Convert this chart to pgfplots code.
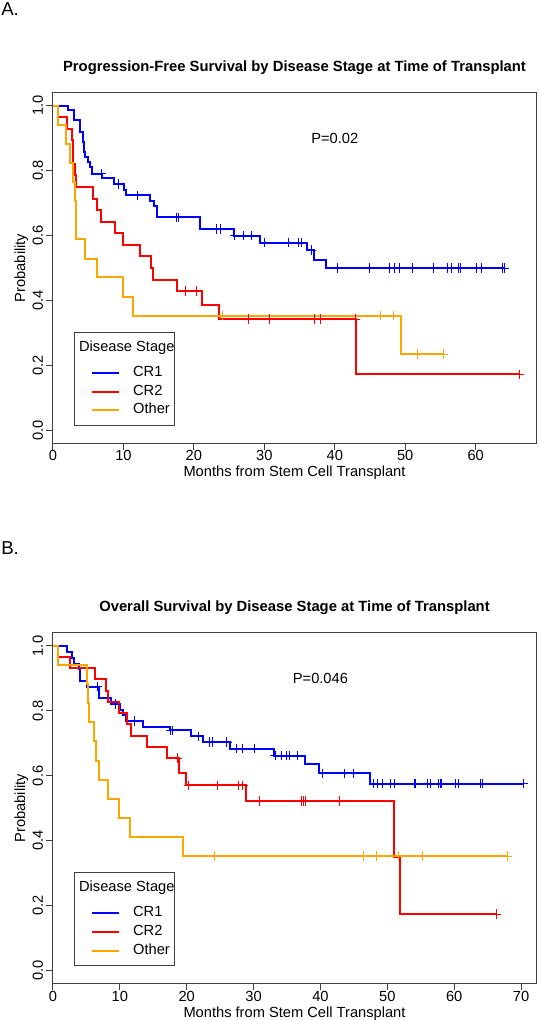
\documentclass[border=0pt]{standalone}
\usepackage{pgfplots}
\pgfplotsset{compat=1.18}
\usepackage{fontspec}
\setmainfont{Liberation Sans}
\definecolor{rblue}{RGB}{0,0,255}
\definecolor{rred}{RGB}{255,0,0}
\definecolor{rorange}{RGB}{255,165,0}

\pgfplotsset{
  kmaxis/.style={
    scale only axis, width=362.25pt, height=262.95pt,
    xmin=0, ymin=-0.04, ymax=1.04,
    axis line style={black!75, line width=0.75pt},
    every tick/.style={black!75, line width=0.75pt},
    tick align=outside, major tick length=4.9pt, tick pos=left,
    /pgf/number format/assume math mode=true,
    ytick={0,0.2,0.4,0.6,0.8,1.0}, yticklabels={0.0,0.2,0.4,0.6,0.8,1.0},
    font=\fontsize{11pt}{13pt}\selectfont,
    xticklabel style={anchor=north, inner sep=0pt, outer sep=0.6pt},
    yticklabel style={rotate=90, anchor=south, inner sep=0pt, outer sep=2.6pt},
    xlabel={Months from Stem Cell Transplant},
    ylabel={Probability},
    every axis x label/.style={at={(axis description cs:0.5,0)}, anchor=base, yshift=-25.1pt},
    every axis y label/.style={at={(axis description cs:-0.0575,0.5)}, rotate=90, anchor=base},
    title style={at={(axis description cs:0.5,1)}, anchor=base, yshift=9.75pt, font=\bfseries\fontsize{11.1pt}{13pt}\selectfont},
    legend cell align=left,
    legend image code/.code={\path (0pt,0pt); \draw[##1] (12.7pt,0pt) -- (32.9pt,0pt);},
    legend style={at={(axis description cs:0.0426,0.049)}, anchor=south west,
      draw=black!75, line width=0.75pt, fill=white, inner xsep=0pt, inner ysep=6.3pt,
      column sep=9.9pt, row sep=3.5pt,
      nodes={inner sep=0pt, text height=8pt, text depth=2.5pt},
      font=\fontsize{11pt}{13pt}\selectfont},
  },
  km/.style={const plot, line width=1.5pt, forget plot},
  cens/.style={only marks, mark=+, mark size=3.5pt, mark options={line width=0.6pt}, forget plot},
}

\begin{document}
\begin{tikzpicture}
\useasboundingbox (0,0) rectangle (405.75pt,765pt);
\node[anchor=base west, inner sep=0pt, font=\fontsize{14pt}{16pt}\selectfont] at (0.75pt,753.4pt) {A.};
\node[anchor=base west, inner sep=0pt, font=\fontsize{14pt}{16pt}\selectfont] at (0.75pt,348.75pt) {B.};

% ---------------- Panel A: PFS ----------------
\begin{axis}[kmaxis, at={(39.75pt,432.525pt)}, anchor=south west,
  xmax=68.56, xtick={0,10,20,30,40,50,60}, xticklabels={0,10,20,30,40,50,60},
  title={Progression-Free Survival by Disease Stage at Time of Transplant}]
% CR1
\addplot[km, rblue] coordinates {
(0,1) (2.2,0.987) (3.0,0.955) (3.85,0.92) (4.2,0.887) (4.35,0.857) (4.6,0.841)
(4.9,0.826) (5.2,0.81) (5.6,0.79) (7.0,0.776) (8.7,0.759) (10.1,0.741) (10.4,0.724)
(13.8,0.707) (14.3,0.69) (14.8,0.656) (20.9,0.62) (25.7,0.60) (29.4,0.578)
(36.1,0.555) (37.1,0.526) (38.7,0.50) (64.1,0.50)};
\addplot[cens, rblue] coordinates {
(6.8,0.79) (9.3,0.759) (12.0,0.724) (17.5,0.656) (17.8,0.656) (23.2,0.62) (23.7,0.62)
(25.8,0.60) (27.0,0.60) (28.1,0.60) (30.0,0.578) (33.4,0.578) (34.8,0.578) (35.2,0.578)
(36.7,0.555) (40.3,0.5) (44.9,0.5) (47.8,0.5) (48.5,0.5) (49.2,0.5) (51.0,0.5) (54.0,0.5)
(56.0,0.5) (56.5,0.5) (57.6,0.5) (57.8,0.5) (60.1,0.5) (60.8,0.5) (63.8,0.5) (64.1,0.5)};
% CR2
\addplot[km, rred] coordinates {
(0,1) (0.75,0.964) (2.0,0.929) (2.7,0.893) (2.8,0.857) (2.9,0.821) (3.1,0.786) (3.2,0.75)
(5.7,0.714) (6.3,0.679) (6.8,0.643) (8.8,0.607) (9.9,0.571) (12.3,0.536) (13.9,0.50)
(14.2,0.464) (17.6,0.429) (21.2,0.386) (23.5,0.343) (43.0,0.172) (66.2,0.172)};
\addplot[cens, rred] coordinates {
(18.8,0.429) (20.3,0.429) (27.7,0.343) (30.7,0.343) (37.1,0.343) (38.0,0.343)
(42.9,0.343) (66.2,0.172)};
% Other
\addplot[km, rorange] coordinates {
(0,1) (0.7,0.941) (1.9,0.882) (2.4,0.824) (2.9,0.765) (3.1,0.706) (3.3,0.588)
(4.5,0.529) (6.3,0.471) (9.9,0.412) (11.3,0.353) (49.4,0.235) (55.4,0.235)};
\addplot[cens, rorange] coordinates {
(24.1,0.353) (46.5,0.353) (48.3,0.353) (51.7,0.235) (55.4,0.235)};
\node[font=\fontsize{11pt}{13pt}\selectfont] at (axis cs:40,0.9) {P=0.02};
\addlegendimage{empty legend}
\addlegendentry[text depth=7.25pt]{\hspace{-40.5pt}Disease Stage\hspace{5pt}}
\addlegendimage{rblue, line width=1.5pt}
\addlegendentry{CR1}
\addlegendimage{rred, line width=1.5pt}
\addlegendentry{CR2}
\addlegendimage{rorange, line width=1.5pt}
\addlegendentry{Other}
\end{axis}

% ---------------- Panel B: OS ----------------
\begin{axis}[kmaxis, at={(39.75pt,27.3pt)}, anchor=south west,
  xmax=72.24, xtick={0,10,20,30,40,50,60,70}, xticklabels={0,10,20,30,40,50,60,70},
  title={Overall Survival by Disease Stage at Time of Transplant}]
% CR1
\addplot[km, rblue] coordinates {
(0,1) (2.1,0.982) (2.9,0.964) (3.1,0.946) (3.9,0.928) (4.1,0.893) (5.1,0.875)
(6.9,0.839) (8.7,0.821) (10.0,0.804) (10.4,0.786) (10.9,0.769) (13.5,0.75)
(17.5,0.74) (20.7,0.722) (22.5,0.704) (26.4,0.684) (33.1,0.662) (37.7,0.636)
(39.8,0.608) (47.4,0.576) (70.3,0.576)};
\addplot[cens, rblue] coordinates {
(6.7,0.875) (9.4,0.821) (12.2,0.769) (17.6,0.74) (17.9,0.74) (21.7,0.722) (23.4,0.704)
(23.9,0.704) (26.0,0.704) (27.4,0.684) (28.3,0.684) (30.1,0.684) (33.2,0.662) (34.1,0.662)
(34.9,0.662) (35.3,0.662) (36.6,0.662) (40.3,0.608) (43.6,0.608) (44.9,0.608) (47.9,0.576)
(48.5,0.576) (49.3,0.576) (50.5,0.576) (51.0,0.576) (54.0,0.576) (54.2,0.576) (56.0,0.576)
(56.4,0.576) (57.7,0.576) (57.9,0.576) (58.1,0.576) (60.2,0.576) (60.6,0.576) (63.9,0.576)
(64.2,0.576) (70.3,0.576)};
% CR2
\addplot[km, rred] coordinates {
(0,1) (0.8,0.966) (2.6,0.931) (6.3,0.897) (8.0,0.862) (8.2,0.828) (9.8,0.793)
(11.0,0.759) (11.6,0.724) (14.0,0.69) (17.0,0.655) (18.8,0.609) (19.9,0.571)
(28.8,0.522) (51.0,0.349) (51.9,0.174) (66.3,0.174)};
\addplot[cens, rred] coordinates {
(18.6,0.655) (20.3,0.571) (24.6,0.571) (27.8,0.571) (28.4,0.571) (30.8,0.522) (37.1,0.522)
(37.4,0.522) (37.7,0.522) (42.9,0.522) (66.3,0.174)};
% Other
\addplot[km, rorange] coordinates {
(0,1) (0.8,0.941) (5.1,0.882) (5.3,0.824) (5.4,0.765) (6.1,0.706) (6.5,0.647)
(6.9,0.588) (8.3,0.529) (9.9,0.471) (11.5,0.412) (19.4,0.353) (67.9,0.353)};
\addplot[cens, rorange] coordinates {
(24.2,0.353) (46.4,0.353) (48.3,0.353) (51.6,0.353) (55.3,0.353) (67.9,0.353)};
\node[font=\fontsize{11pt}{13pt}\selectfont] at (axis cs:40,0.9) {P=0.046};
\addlegendimage{empty legend}
\addlegendentry[text depth=7.25pt]{\hspace{-40.5pt}Disease Stage\hspace{5pt}}
\addlegendimage{rblue, line width=1.5pt}
\addlegendentry{CR1}
\addlegendimage{rred, line width=1.5pt}
\addlegendentry{CR2}
\addlegendimage{rorange, line width=1.5pt}
\addlegendentry{Other}
\end{axis}
\end{tikzpicture}
\end{document}
